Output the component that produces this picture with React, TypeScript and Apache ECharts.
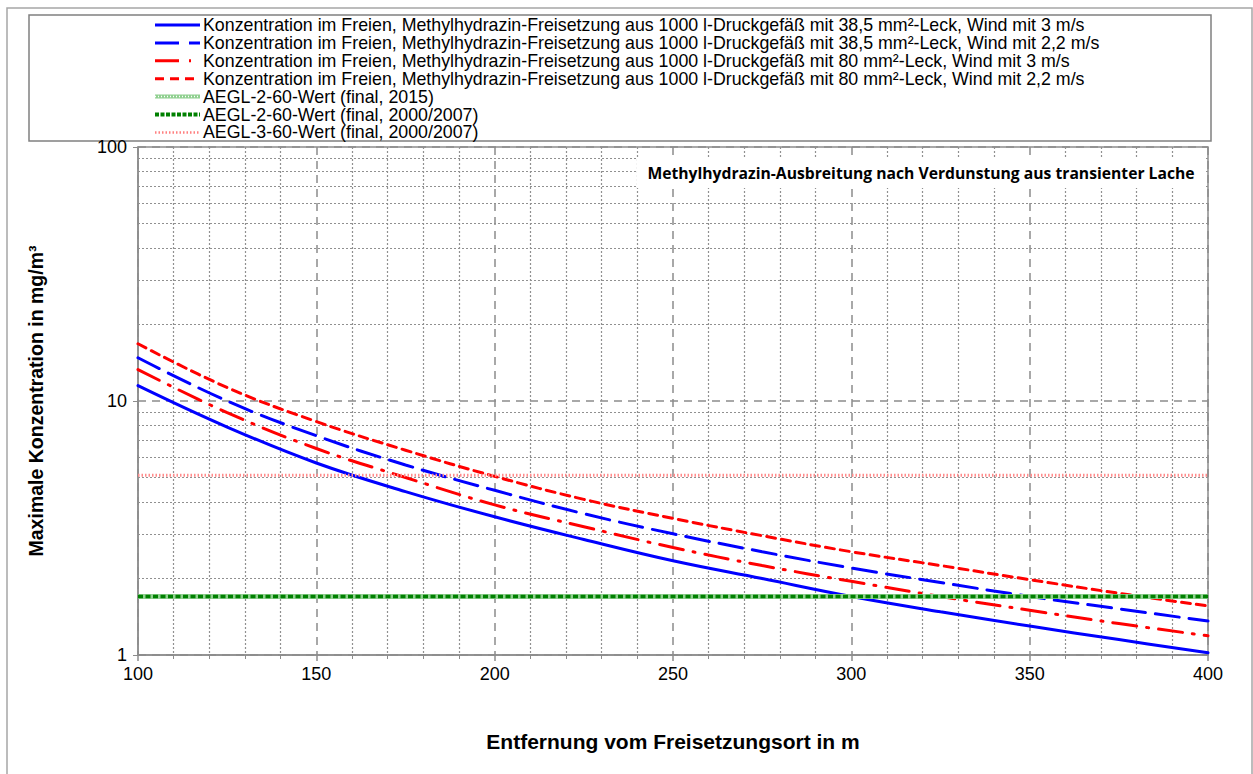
import React, { useEffect, useRef } from "react";
import * as echarts from "echarts";

const distances = [100, 125, 150, 175, 200, 225, 250, 275, 300, 325, 350, 375, 400];
const blueSolid = [11.5, 7.9, 5.7, 4.4, 3.5, 2.85, 2.35, 2.0, 1.7, 1.48, 1.3, 1.15, 1.02];
const blueDashed = [14.8, 10.0, 7.3, 5.6, 4.45, 3.6, 3.0, 2.55, 2.2, 1.93, 1.7, 1.52, 1.36];
const redDashDot = [13.3, 9.0, 6.5, 5.0, 3.9, 3.2, 2.65, 2.25, 1.95, 1.7, 1.5, 1.33, 1.19];
const redDashed = [16.8, 11.3, 8.3, 6.4, 5.05, 4.1, 3.45, 2.95, 2.55, 2.25, 1.98, 1.75, 1.56];
const aeglRange = [100, 400];
const aegl2_2015 = 1.7;
const aegl2_2000 = 1.7;
const aegl3_2000 = 5.1;
const xTicks = [100, 150, 200, 250, 300, 350, 400];
const yMinorGrid = [2, 3, 4, 5, 6, 7, 8, 9, 20, 30, 40, 50, 60, 70, 80, 90];

const names = [
  "Konzentration im Freien, Methylhydrazin-Freisetzung aus 1000 l-Druckgefäß mit 38,5 mm²-Leck, Wind mit 3 m/s",
  "Konzentration im Freien, Methylhydrazin-Freisetzung aus 1000 l-Druckgefäß mit 38,5 mm²-Leck, Wind mit 2,2 m/s",
  "Konzentration im Freien, Methylhydrazin-Freisetzung aus 1000 l-Druckgefäß mit 80 mm²-Leck, Wind mit 3 m/s",
  "Konzentration im Freien, Methylhydrazin-Freisetzung aus 1000 l-Druckgefäß mit 80 mm²-Leck, Wind mit 2,2 m/s",
  "AEGL-2-60-Wert (final, 2015)",
  "AEGL-2-60-Wert (final, 2000/2007)",
  "AEGL-3-60-Wert (final, 2000/2007)",
];
const chartTitle = "Methylhydrazin-Ausbreitung nach Verdunstung aus transienter Lache";
const yTitle = "Maximale Konzentration in mg/m³";
const xTitle = "Entfernung vom Freisetzungsort in m";

const pair = (ys: number[]) => distances.map((d, i) => [d, ys[i]]);
const flat = (v: number) => aeglRange.map((d) => [d, v]);

const App: React.FC = () => {
  const ref = useRef<HTMLDivElement>(null);
  useEffect(() => {
    if (!ref.current) return;
    const chart = echarts.init(ref.current, null, { renderer: "svg" });
    const font = "'Liberation Sans', Arial, sans-serif";
    const curveStyles = [
      { color: "#0000ff", width: 3, type: "solid" as any },
      { color: "#0000ff", width: 3, type: [24, 10] },
      { color: "#ff0000", width: 3, type: [24, 10, 2, 10] },
      { color: "#ff0000", width: 3, type: [9, 6] },
    ];
    const curveData = [blueSolid, blueDashed, redDashDot, redDashed];

    const legendGraphics: any[] = [];
    const rowY = (i: number) => 25 + i * 17.9;
    names.forEach((n, i) => {
      const y = rowY(i);
      if (i < 4) {
        legendGraphics.push({
          type: "line",
          shape: { x1: 155, y1: y, x2: 200, y2: y },
          style: { stroke: curveStyles[i].color, lineWidth: 3, lineDash: curveStyles[i].type === "solid" ? null : curveStyles[i].type },
        });
      } else if (i === 4) {
        legendGraphics.push({ type: "line", shape: { x1: 155, y1: y, x2: 200, y2: y }, style: { stroke: "#90d090", lineWidth: 4 } });
        legendGraphics.push({ type: "line", shape: { x1: 155, y1: y, x2: 200, y2: y }, style: { stroke: "#ffffff", lineWidth: 1.5, lineDash: [1, 2] } });
      } else if (i === 5) {
        legendGraphics.push({ type: "line", shape: { x1: 155, y1: y, x2: 200, y2: y }, style: { stroke: "#008000", lineWidth: 4, lineDash: [4, 1.5] } });
      } else {
        legendGraphics.push({ type: "line", shape: { x1: 155, y1: y, x2: 200, y2: y }, style: { stroke: "#ff8080", lineWidth: 2.5, lineDash: [1.5, 2] } });
      }
      legendGraphics.push({
        type: "text",
        x: 203,
        y,
        style: { text: n, font: `17.8px ${font}`, fill: "#000", textVerticalAlign: "middle", verticalAlign: "middle" },
      });
    });

    const series: any[] = curveData.map((d, i) => ({
      type: "line",
      name: names[i],
      data: pair(d),
      smooth: 0.4,
      showSymbol: false,
      symbol: "none",
      lineStyle: { color: curveStyles[i].color, width: curveStyles[i].width, type: curveStyles[i].type, cap: "round" },
      z: 3,
    }));
    series.push({
      type: "line",
      name: names[4],
      data: flat(aegl2_2015),
      symbol: "none",
      lineStyle: { color: "#90d090", width: 5 },
      z: 4,
      markLine: {
        silent: true,
        symbol: "none",
        label: { show: false },
        lineStyle: { color: "#909090", width: 1.2, type: [2, 2] },
        data: yMinorGrid.map((v) => ({ yAxis: v })),
        z: 1,
      },
    });
    series.push({
      type: "line",
      name: names[5],
      data: flat(aegl2_2000),
      symbol: "none",
      lineStyle: { color: "#008000", width: 3.5, type: [5, 2.5] },
      z: 5,
    });
    series.push({
      type: "line",
      name: names[6],
      data: flat(aegl3_2000),
      symbol: "none",
      lineStyle: { color: "#ff8c8c", width: 3, type: [1.5, 2] },
      z: 5,
    });

    chart.setOption({
      animation: false,
      backgroundColor: "#fff",
      grid: { left: 138, right: 45, top: 147, bottom: 119, show: true, borderColor: "#8c8c8c", borderWidth: 1.5, backgroundColor: "transparent" },
      xAxis: {
        type: "value",
        min: xTicks[0],
        max: xTicks[xTicks.length - 1],
        interval: 50,
        axisLine: { show: true, lineStyle: { color: "#8c8c8c", width: 1.5 } },
        axisTick: { show: true, length: 6, lineStyle: { color: "#8c8c8c", width: 1.5 } },
        minorTick: { show: true, splitNumber: 5, length: 4, lineStyle: { color: "#8c8c8c" } },
        axisLabel: { fontSize: 18, color: "#000", fontFamily: font, margin: 10 },
        splitLine: { show: true, lineStyle: { color: "#8c8c8c", width: 1.5, type: [8, 6] } },
        minorSplitLine: { show: true, lineStyle: { color: "#909090", width: 1.2, type: [2, 2] } },
      },
      yAxis: {
        type: "log",
        logBase: 10,
        min: 1,
        max: 100,
        axisLine: { show: true, lineStyle: { color: "#8c8c8c", width: 1.5 } },
        axisTick: { show: true, length: 5, lineStyle: { color: "#8c8c8c" } },
        axisLabel: { fontSize: 18, color: "#000", fontFamily: font, margin: 11 },
        splitLine: { show: true, lineStyle: { color: "#8c8c8c", width: 1.5, type: [8, 6] } },
      },
      series,
      graphic: [
        { type: "rect", shape: { x: 7, y: 8, width: 1245, height: 800 }, style: { fill: "none", stroke: "#a6a6a6", lineWidth: 1.5 }, silent: true, z: -10 },
        { type: "rect", shape: { x: 29, y: 15, width: 1182, height: 126 }, style: { fill: "#fff", stroke: "#808080", lineWidth: 1.5 }, silent: true },
        ...legendGraphics,
        { type: "rect", shape: { x: 637, y: 158, width: 568, height: 30 }, style: { fill: "#fff", stroke: "none" }, z: 50 },
        {
          type: "text",
          x: 921,
          y: 173,
          z: 51,
          style: { text: chartTitle, font: `bold 15.7px "Open Sans", sans-serif`, fill: "#000", align: "center", verticalAlign: "middle", textAlign: "center", textVerticalAlign: "middle" },
        },
        {
          type: "text",
          x: 36,
          y: 401,
          rotation: Math.PI / 2,
          style: { text: yTitle, font: `bold 19.5px ${font}`, fill: "#000", align: "center", verticalAlign: "middle", textAlign: "center", textVerticalAlign: "middle" },
        },
        {
          type: "text",
          x: 673,
          y: 741,
          style: { text: xTitle, font: `bold 21px ${font}`, fill: "#000", align: "center", verticalAlign: "middle", textAlign: "center", textVerticalAlign: "middle" },
        },
      ],
    });
    return () => chart.dispose();
  }, []);
  return <div ref={ref} style={{ position: "absolute", left: 0, top: 0, width: 1253, height: 774 }} />;
};

export default App;
